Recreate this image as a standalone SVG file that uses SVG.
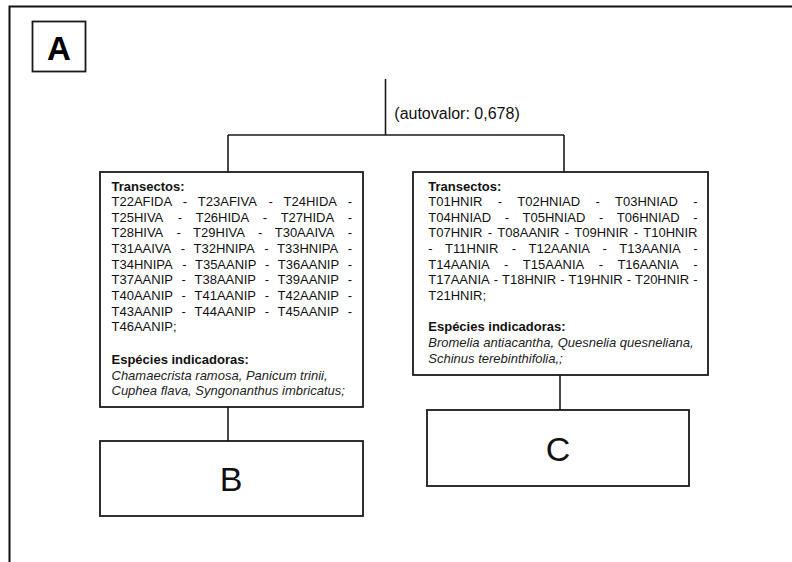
<svg xmlns="http://www.w3.org/2000/svg" width="792" height="562" viewBox="0 0 792 562">
<style>
.frame{fill:none;stroke:#111;stroke-width:2}
.box{fill:#fff;stroke:#1a1a1a;stroke-width:1.8}
.conn{fill:none;stroke:#1a1a1a;stroke-width:1.6}
.t{font-family:"Liberation Sans",Arial,sans-serif;font-size:13px;fill:#111}
.b{font-weight:bold}
.i{font-style:italic;fill:#222}
.big{font-family:"Liberation Sans",Arial,sans-serif;font-size:34px;fill:#111;text-anchor:middle}
.lab{font-family:"Liberation Sans",Arial,sans-serif;font-size:16px;fill:#111}
</style>
<rect width="792" height="562" fill="#fff"/>
<path class="frame" d="M9.5,562 V6.5 H792"/>
<g id="panel-label">
<rect class="box" x="32.5" y="21.5" width="53" height="50"/>
<text x="59" y="60" font-family="Liberation Sans,Arial,sans-serif" font-size="33" font-weight="bold" text-anchor="middle" fill="#000">A</text>
</g>
<g id="connectors">
<path class="conn" d="M385.5,79 V135"/>
<path class="conn" d="M228,135 H564"/>
<path class="conn" d="M228,135 V172"/>
<path class="conn" d="M564,135 V172"/>
<path class="conn" d="M228,407 V441"/>
<path class="conn" d="M560,375 V410"/>
<text class="lab" x="394.3" y="119">(autovalor: 0,678)</text>
</g>
<g id="node-left">
<rect class="box" x="100" y="172" width="263" height="235"/>
<text class="t b" x="111.5" y="190.5">Transectos:</text>
<text class="t" y="206.15"><tspan x="111.5">T22AFIDA</tspan><tspan x="182.86">-</tspan><tspan x="197.87">T23AFIVA</tspan><tspan x="268.52">-</tspan><tspan x="283.53">T24HIDA</tspan><tspan x="347.67">-</tspan></text>
<text class="t" y="221.8"><tspan x="111.5">T25HIVA</tspan><tspan x="177.81">-</tspan><tspan x="195.71">T26HIDA</tspan><tspan x="262.74">-</tspan><tspan x="280.64">T27HIDA</tspan><tspan x="347.67">-</tspan></text>
<text class="t" y="237.45"><tspan x="111.5">T28HIVA</tspan><tspan x="176.51">-</tspan><tspan x="193.11">T29HIVA</tspan><tspan x="258.12">-</tspan><tspan x="274.72">T30AAIVA</tspan><tspan x="347.69">-</tspan></text>
<text class="t" y="253.1"><tspan x="111.5">T31AAIVA</tspan><tspan x="180.71">-</tspan><tspan x="193.55">T32HNIPA</tspan><tspan x="264.19">-</tspan><tspan x="277.03">T33HNIPA</tspan><tspan x="347.67">-</tspan></text>
<text class="t" y="268.75"><tspan x="111.5">T34HNIPA</tspan><tspan x="182.14">-</tspan><tspan x="194.98">T35AANIP</tspan><tspan x="264.9">-</tspan><tspan x="277.74">T36AANIP</tspan><tspan x="347.66">-</tspan></text>
<text class="t" y="284.4"><tspan x="111.5">T37AANIP</tspan><tspan x="181.57">-</tspan><tspan x="194.56">T38AANIP</tspan><tspan x="264.63">-</tspan><tspan x="277.62">T39AANIP</tspan><tspan x="347.69">-</tspan></text>
<text class="t" y="300.05"><tspan x="111.5">T40AANIP</tspan><tspan x="181.57">-</tspan><tspan x="194.56">T41AANIP</tspan><tspan x="264.63">-</tspan><tspan x="277.62">T42AANIP</tspan><tspan x="347.69">-</tspan></text>
<text class="t" y="315.7"><tspan x="111.5">T43AANIP</tspan><tspan x="181.57">-</tspan><tspan x="194.56">T44AANIP</tspan><tspan x="264.63">-</tspan><tspan x="277.62">T45AANIP</tspan><tspan x="347.69">-</tspan></text>
<text class="t" x="111.5" y="331.35">T46AANIP;</text>
<text class="t b" x="111.5" y="364">Espécies indicadoras:</text>
<text class="t i" x="111.5" y="379.65">Chamaecrista ramosa, Panicum trinii,</text>
<text class="t i" x="111.5" y="395.3">Cuphea flava, Syngonanthus imbricatus;</text>
</g>
<g id="node-right">
<rect class="box" x="413" y="172" width="295" height="203"/>
<text class="t b" x="428.3" y="190.5">Transectos:</text>
<text class="t" y="206.15"><tspan x="428.3">T01HNIR</tspan><tspan x="497.74">-</tspan><tspan x="517.34">T02HNIAD</tspan><tspan x="595.45">-</tspan><tspan x="615.05">T03HNIAD</tspan><tspan x="693.16">-</tspan></text>
<text class="t" y="221.8"><tspan x="428.3">T04HNIAD</tspan><tspan x="504.68">-</tspan><tspan x="522.55">T05HNIAD</tspan><tspan x="598.93">-</tspan><tspan x="616.8">T06HNIAD</tspan><tspan x="693.18">-</tspan></text>
<text class="t" y="237.45"><tspan x="428.3">T07HNIR</tspan><tspan x="487.73">-</tspan><tspan x="497.32">T08AANIR</tspan><tspan x="564.71">-</tspan><tspan x="574.3">T09HNIR</tspan><tspan x="633.73">-</tspan><tspan x="643.32">T10HNIR</tspan></text>
<text class="t" y="253.1"><tspan x="428.3">-</tspan><tspan x="445.11">T11HNIR</tspan><tspan x="511.76">-</tspan><tspan x="528.57">T12AANIA</tspan><tspan x="602.46">-</tspan><tspan x="619.27">T13AANIA</tspan><tspan x="693.16">-</tspan></text>
<text class="t" y="268.75"><tspan x="428.3">T14AANIA</tspan><tspan x="504.11">-</tspan><tspan x="522.84">T15AANIA</tspan><tspan x="598.65">-</tspan><tspan x="617.38">T16AANIA</tspan><tspan x="693.19">-</tspan></text>
<text class="t" y="284.4"><tspan x="428.3">T17AANIA</tspan><tspan x="493.7">-</tspan><tspan x="502.02">T18HNIR</tspan><tspan x="560.18">-</tspan><tspan x="568.5">T19HNIR</tspan><tspan x="626.66">-</tspan><tspan x="634.98">T20HNIR</tspan><tspan x="693.14">-</tspan></text>
<text class="t" x="428.3" y="300.05">T21HNIR;</text>
<text class="t b" x="428.3" y="331.35">Espécies indicadoras:</text>
<text class="t i" x="428.3" y="347">Bromelia antiacantha, Quesnelia quesneliana,</text>
<text class="t i" x="428.3" y="362.65">Schinus terebinthifolia,;</text>
</g>
<g id="node-B">
<rect class="box" x="100" y="441" width="263" height="75"/>
<text class="big" x="231" y="491">B</text>
</g>
<g id="node-C">
<rect class="box" x="427" y="410" width="262" height="76"/>
<text class="big" x="558" y="461">C</text>
</g>
</svg>
